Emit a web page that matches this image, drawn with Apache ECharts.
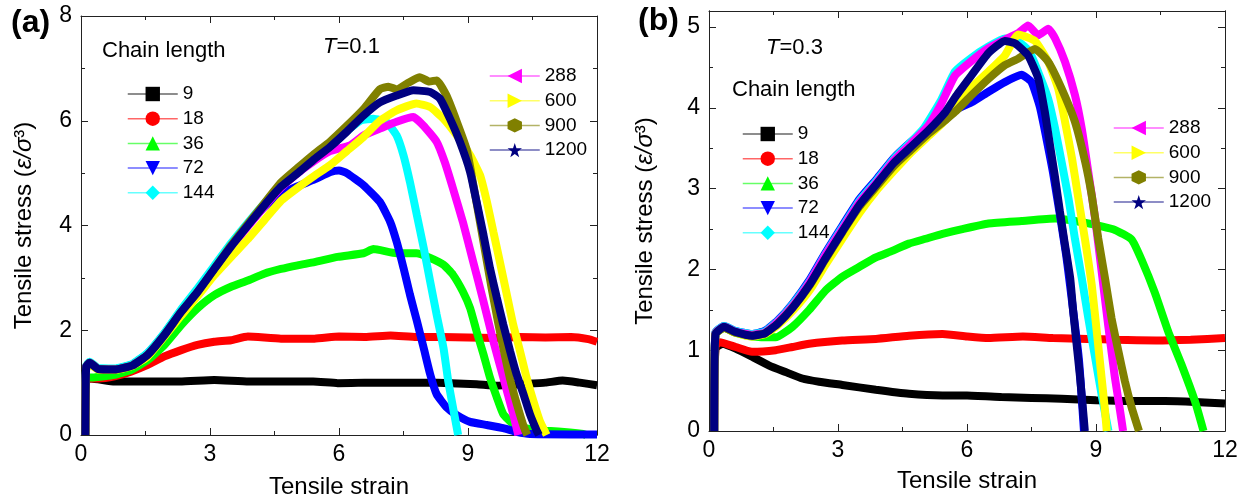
<!DOCTYPE html>
<html>
<head>
<meta charset="utf-8">
<script src="https://cdn.jsdelivr.net/npm/echarts@6/dist/echarts.min.js"></script>
<style>
html,body{margin:0;padding:0;background:#fff;}
#c{width:1247px;height:504px;}
</style>
</head>
<body>
<div id="c"></div>
<script>
// ---- Data (strain, stress) ----
const chainNames = ['9','18','36','72','144','288','600','900','1200'];
const xTicks = [0,3,6,9,12];
const yTicksA = [0,2,4,6,8];
const yTicksB = [0,1,2,3,4,5];

// Panel (a) T=0.1
const a9 = [[0.1,0],[0.12,1.05],[0.23,1.08],[0.78,1.02],[1.5,1.02],[2.3,1.02],[3.1,1.05],[3.9,1.02],[4.65,1.02],[5.4,1.02],[5.97,0.99],[6.6,1.0],[7.3,1.0],[8.0,1.0],[8.6,0.99],[9.2,0.97],[9.67,0.94],[10.2,0.97],[10.8,1.0],[11.2,1.04],[11.6,1.0],[12,0.95]];
const a18 = [[0.1,0],[0.12,1.08],[0.4,1.08],[0.78,1.12],[1.16,1.21],[1.55,1.34],[1.94,1.5],[2.33,1.62],[2.71,1.72],[3.1,1.78],[3.49,1.81],[3.88,1.88],[4.65,1.84],[5.43,1.84],[6.0,1.88],[6.6,1.87],[7.2,1.9],[7.8,1.87],[8.4,1.87],[9.0,1.86],[9.6,1.85],[10.2,1.87],[10.8,1.86],[11.4,1.87],[11.8,1.83],[12,1.78]];
const a36 = [[0.1,0],[0.12,1.1],[0.3,1.1],[0.78,1.15],[1.16,1.24],[1.55,1.43],[1.94,1.72],[2.33,2.1],[2.71,2.42],[3.1,2.67],[3.49,2.83],[3.88,2.95],[4.26,3.08],[4.65,3.17],[5.04,3.24],[5.43,3.3],[5.97,3.4],[6.57,3.47],[6.8,3.55],[7.34,3.47],[7.8,3.47],[8.12,3.38],[8.43,3.25],[8.65,3.06],[8.88,2.74],[9.05,2.42],[9.2,1.98],[9.36,1.54],[9.51,1.1],[9.67,0.72],[9.82,0.4],[10.05,0.21],[10.44,0.11],[10.83,0.08],[11.37,0.05],[11.68,0.02],[11.75,0]];
const a72 = [[0.1,0],[0.12,1.3],[0.2,1.38],[0.4,1.26],[0.78,1.26],[1.2,1.35],[1.55,1.56],[1.94,1.94],[2.33,2.38],[2.71,2.77],[3.1,3.2],[3.49,3.62],[3.88,4.0],[4.26,4.35],[4.65,4.6],[5.04,4.75],[5.43,4.88],[5.8,5.02],[6.0,5.05],[6.18,5.0],[6.57,4.77],[6.95,4.45],[7.19,4.07],[7.34,3.69],[7.5,3.19],[7.65,2.68],[7.81,2.18],[7.97,1.66],[8.12,1.16],[8.27,0.78],[8.5,0.53],[8.74,0.38],[9.05,0.25],[9.44,0.19],[9.82,0.13],[10.13,0.06],[10.44,0.02],[12,0.01]];
const a144 = [[0.1,0],[0.12,1.32],[0.2,1.4],[0.4,1.28],[0.78,1.27],[1.2,1.36],[1.55,1.57],[1.94,1.95],[2.33,2.4],[2.71,2.8],[3.1,3.23],[3.49,3.66],[3.88,4.05],[4.26,4.42],[4.65,4.78],[5.04,5.05],[5.4,5.28],[5.79,5.52],[6.18,5.8],[6.5,6.0],[6.8,6.04],[7.11,5.97],[7.34,5.72],[7.5,5.34],[7.65,4.83],[7.81,4.2],[7.97,3.57],[8.12,2.93],[8.27,2.3],[8.43,1.66],[8.54,1.03],[8.65,0.53],[8.77,0]];
const a288 = [[0.1,0],[0.12,1.3],[0.2,1.38],[0.4,1.26],[0.78,1.25],[1.2,1.33],[1.55,1.53],[1.94,1.9],[2.33,2.33],[2.71,2.72],[3.1,3.15],[3.49,3.58],[3.88,3.98],[4.26,4.36],[4.65,4.72],[5.04,5.0],[5.4,5.22],[5.79,5.42],[6.26,5.53],[6.57,5.72],[6.95,5.85],[7.34,5.98],[7.73,6.07],[7.96,5.91],[8.27,5.6],[8.46,5.21],[8.65,4.71],[8.88,4.07],[9.12,3.31],[9.36,2.55],[9.59,1.79],[9.82,1.1],[10.05,0.4],[10.17,0]];
const a600 = [[0.1,0],[0.12,1.25],[0.2,1.35],[0.4,1.25],[0.78,1.24],[1.2,1.32],[1.55,1.5],[1.94,1.88],[2.33,2.28],[2.71,2.65],[3.1,3.05],[3.49,3.4],[3.88,3.74],[4.26,4.1],[4.65,4.47],[5.04,4.72],[5.43,4.95],[5.79,5.15],[6.18,5.42],[6.57,5.69],[6.95,6.0],[7.34,6.2],[7.8,6.33],[8.12,6.26],[8.43,6.04],[8.74,5.72],[9.05,5.34],[9.28,4.96],[9.44,4.45],[9.59,3.88],[9.74,3.31],[9.9,2.69],[10.05,2.11],[10.21,1.6],[10.36,1.1],[10.52,0.65],[10.67,0.27],[10.83,0]];
const a900 = [[0.1,0],[0.12,1.3],[0.2,1.38],[0.4,1.26],[0.78,1.25],[1.2,1.33],[1.55,1.53],[1.94,1.91],[2.33,2.35],[2.71,2.73],[3.1,3.17],[3.49,3.62],[3.88,4.03],[4.26,4.42],[4.65,4.82],[5.04,5.1],[5.4,5.35],[5.79,5.6],[6.18,5.9],[6.57,6.22],[6.95,6.6],[7.15,6.65],[7.34,6.6],[7.6,6.72],[7.88,6.83],[8.1,6.75],[8.27,6.77],[8.5,6.48],[8.74,5.98],[8.97,5.45],[9.12,4.8],[9.25,4.2],[9.4,3.5],[9.55,2.8],[9.7,2.15],[9.85,1.55],[10.0,1.0],[10.15,0.55],[10.3,0.15],[10.38,0]];
const a1200 = [[0.1,0],[0.12,1.3],[0.2,1.38],[0.4,1.26],[0.78,1.25],[1.2,1.33],[1.55,1.53],[1.94,1.91],[2.33,2.35],[2.71,2.73],[3.1,3.17],[3.49,3.6],[3.88,4.0],[4.26,4.38],[4.65,4.74],[5.04,5.0],[5.4,5.25],[5.79,5.5],[6.18,5.79],[6.57,6.1],[6.95,6.35],[7.34,6.48],[7.73,6.58],[8.12,6.55],[8.35,6.42],[8.58,6.04],[8.81,5.6],[9.05,5.02],[9.2,4.45],[9.36,3.82],[9.51,3.19],[9.67,2.62],[9.82,2.11],[9.98,1.6],[10.13,1.16],[10.29,0.78],[10.44,0.4],[10.6,0.08],[10.65,0]];

// Panel (b) T=0.3
const b9 = [[0.12,0],[0.15,1.02],[0.31,1.08],[0.62,1.02],[1.0,0.92],[1.4,0.81],[1.78,0.73],[2.17,0.65],[2.56,0.61],[3.1,0.57],[3.88,0.51],[4.65,0.46],[5.43,0.44],[6.0,0.44],[6.8,0.42],[7.5,0.41],[8.2,0.4],[9.0,0.38],[9.8,0.37],[10.6,0.37],[11.3,0.36],[12,0.34]];
const b18 = [[0.12,0],[0.15,1.05],[0.25,1.1],[0.62,1.04],[1.0,0.98],[1.55,1.0],[1.94,1.04],[2.33,1.08],[3.1,1.12],[3.88,1.14],[4.65,1.18],[5.43,1.2],[6.0,1.17],[6.5,1.15],[7.3,1.17],[8.0,1.15],[8.8,1.14],[9.5,1.13],[10.4,1.12],[11.2,1.13],[12,1.15]];
const b36 = [[0.12,0],[0.15,1.2],[0.35,1.28],[0.6,1.22],[1.0,1.17],[1.55,1.16],[1.94,1.29],[2.33,1.5],[2.71,1.74],[3.1,1.91],[3.49,2.03],[3.88,2.15],[4.26,2.23],[4.65,2.32],[5.04,2.38],[5.43,2.44],[5.89,2.5],[6.5,2.57],[7.27,2.6],[8.05,2.63],[8.82,2.57],[9.44,2.49],[9.83,2.37],[10.06,2.12],[10.37,1.71],[10.68,1.23],[10.99,0.82],[11.3,0.37],[11.5,0]];
const b72 = [[0.12,0],[0.15,1.22],[0.35,1.3],[0.6,1.24],[1.0,1.2],[1.3,1.24],[1.6,1.37],[1.95,1.58],[2.35,1.88],[2.7,2.2],[3.1,2.54],[3.5,2.87],[3.9,3.12],[4.3,3.38],[4.7,3.58],[5.1,3.76],[5.5,3.92],[6.11,4.07],[6.5,4.2],[6.88,4.32],[7.27,4.41],[7.5,4.32],[7.7,4.0],[8.0,3.2],[8.3,2.2],[8.6,0.9],[8.72,0]];
const b144 = [[0.12,0],[0.15,1.22],[0.35,1.3],[0.6,1.24],[1.0,1.2],[1.3,1.23],[1.6,1.36],[1.95,1.57],[2.35,1.86],[2.7,2.18],[3.1,2.52],[3.5,2.85],[3.9,3.1],[4.3,3.37],[4.7,3.58],[5.0,3.75],[5.4,4.1],[5.72,4.45],[6.1,4.62],[6.5,4.76],[6.88,4.86],[7.2,4.82],[7.45,4.7],[7.66,4.44],[7.89,4.11],[8.05,3.74],[8.2,3.33],[8.36,2.88],[8.51,2.38],[8.67,1.89],[8.82,1.4],[8.98,0.91],[9.13,0.45],[9.29,0]];
const b288 = [[0.12,0],[0.15,1.21],[0.35,1.29],[0.6,1.23],[1.0,1.19],[1.3,1.22],[1.6,1.35],[1.95,1.55],[2.35,1.85],[2.7,2.17],[3.1,2.5],[3.5,2.83],[3.9,3.08],[4.3,3.35],[4.7,3.56],[5.1,3.78],[5.4,4.05],[5.72,4.4],[6.1,4.58],[6.5,4.74],[6.9,4.85],[7.2,4.93],[7.42,5.02],[7.66,4.9],[7.89,4.98],[8.05,4.86],[8.28,4.57],[8.51,4.16],[8.67,3.74],[8.82,3.21],[8.98,2.63],[9.13,1.98],[9.29,1.28],[9.44,0.66],[9.56,0.25],[9.63,0]];
const b600 = [[0.12,0],[0.15,1.2],[0.35,1.28],[0.6,1.22],[1.0,1.17],[1.3,1.2],[1.6,1.31],[1.95,1.49],[2.35,1.75],[2.7,2.05],[3.1,2.38],[3.5,2.7],[3.9,2.98],[4.3,3.22],[4.7,3.45],[5.1,3.65],[5.5,3.85],[6.1,4.25],[6.5,4.45],[6.88,4.65],[7.19,4.91],[7.58,4.83],[7.89,4.57],[8.12,4.24],[8.28,3.83],[8.44,3.38],[8.59,2.88],[8.75,2.35],[8.9,1.81],[9.05,1.07],[9.13,0.66],[9.21,0.25],[9.25,0]];
const b900 = [[0.12,0],[0.15,1.2],[0.35,1.28],[0.6,1.22],[1.0,1.18],[1.3,1.21],[1.6,1.33],[1.95,1.53],[2.35,1.81],[2.7,2.12],[3.1,2.46],[3.5,2.78],[3.9,3.03],[4.3,3.28],[4.7,3.48],[5.1,3.68],[5.5,3.85],[5.72,3.95],[6.11,4.16],[6.5,4.36],[6.88,4.53],[7.19,4.61],[7.58,4.73],[7.89,4.57],[8.2,4.24],[8.51,3.83],[8.75,3.33],[8.9,2.92],[9.05,2.39],[9.21,1.89],[9.36,1.4],[9.52,0.99],[9.67,0.62],[9.83,0.29],[10.0,0]];
const b1200 = [[0.12,0],[0.15,1.2],[0.35,1.29],[0.6,1.23],[1.0,1.18],[1.3,1.21],[1.6,1.33],[1.95,1.53],[2.35,1.82],[2.7,2.13],[3.1,2.47],[3.5,2.8],[3.9,3.06],[4.3,3.32],[4.7,3.52],[5.1,3.72],[5.5,3.95],[5.75,4.15],[6.1,4.4],[6.5,4.68],[6.88,4.83],[7.12,4.8],[7.42,4.65],[7.66,4.36],[7.81,3.95],[7.93,3.54],[8.05,3.13],[8.16,2.72],[8.28,2.3],[8.4,1.89],[8.47,1.48],[8.55,1.07],[8.63,0.66],[8.7,0.25],[8.74,0]];

const panelA = [a9,a18,a36,a72,a144,a288,a600,a900,a1200];
const panelB = [b9,b18,b36,b72,b144,b288,b600,b900,b1200];

// ---- Styles ----
const colors = ['#000000','#ff0000','#00ff00','#0000ff','#00ffff','#ff00ff','#ffff00','#808000','#000080'];
const symbols = [
  'rect','circle','triangle',
  'path://M0,0L10,0L5,9Z',
  'diamond',
  'path://M9,0L9,10L0,5Z',
  'path://M0,0L0,10L9,5Z',
  'path://M5,0L9.33,2.5L9.33,7.5L5,10L0.67,7.5L0.67,2.5Z',
  'path://M5,0L6.2,3.6L10,3.6L6.9,5.9L8.1,9.5L5,7.3L1.9,9.5L3.1,5.9L0,3.6L3.8,3.6Z'
];
const FONT = '"Liberation Sans", Arial, sans-serif';
const frameColor = '#222';

function xAx(gi, pos, labels, name) {
  return {
    type:'value', gridIndex:gi, position:pos, min:0, max:12, interval:3,
    axisLine:{show:true, onZero:false, lineStyle:{color:frameColor,width:1}},
    axisTick:{show:true, inside:true, length:7, lineStyle:{color:frameColor}},
    minorTick:{show:true, splitNumber:2, length:4, lineStyle:{color:frameColor}},
    splitLine:{show:false}, minorSplitLine:{show:false},
    axisLabel:{show:labels, fontSize:23, color:'#000', fontFamily:FONT, margin:8},
    name: name || '', nameLocation:'middle', nameGap:40,
    nameTextStyle:{fontSize:24, color:'#000', fontFamily:FONT}
  };
}
function yAx(gi, pos, labels, max, interval, minor, name, gap, tickLen) {
  return {
    type:'value', gridIndex:gi, position:pos, min:0, max:max, interval:interval,
    axisLine:{show:true, onZero:false, lineStyle:{color:frameColor,width:1}},
    axisTick:{show:true, inside:true, length:tickLen, lineStyle:{color:frameColor}},
    minorTick:{show:minor, splitNumber:2, length:4, lineStyle:{color:frameColor}},
    splitLine:{show:false}, minorSplitLine:{show:false},
    axisLabel:{show:labels, fontSize:23, color:'#000', fontFamily:FONT, margin:9, showMaxLabel: max===8},
    name: name || '', nameLocation:'middle', nameGap:gap || 45, nameRotate:90,
    nameTextStyle:{fontSize:24, color:'#000', fontFamily:FONT,
      rich:{i:{fontSize:24, fontStyle:'italic', fontFamily:FONT, color:'#000'}}}
  };
}

const yName = 'Tensile stress ({i|ε/σ}³)';

const xAxes = [
  xAx(0,'bottom',true,'Tensile strain'), xAx(0,'top',false),
  xAx(1,'bottom',true,'Tensile strain'), xAx(1,'top',false)
];
xAxes[2].nameGap = 38;
const yAxes = [
  yAx(0,'left',true,8,2,true,yName,45,7), yAx(0,'right',false,8,2,true,'',0,7),
  yAx(1,'left',true,5.2,1,false,yName,52,7), yAx(1,'right',false,5.2,1,false,'',0,7),
  yAx(1,'left',false,5.2,0.5,false,'',0,4), yAx(1,'right',false,5.2,0.5,false,'',0,4)
];

const series = [];
chainNames.forEach((n,i)=>{
  series.push({
    type:'line', name:n, xAxisIndex:0, yAxisIndex:0, data:panelA[i],
    showSymbol:false, symbol:symbols[i], symbolSize:13, smooth:0.15,
    lineStyle:{color:colors[i], width:8}, itemStyle:{color:colors[i]},
    silent:true, z:2+i
  });
});
chainNames.forEach((n,i)=>{
  series.push({
    type:'line', name:n, xAxisIndex:2, yAxisIndex:2, data:panelB[i],
    showSymbol:false, symbol:symbols[i], symbolSize:13, smooth:0.15,
    lineStyle:{color:colors[i], width:8}, itemStyle:{color:colors[i]},
    silent:true, z:2+i
  });
});

function leg(left, top, names) {
  return {
    left:left, top:top, orient:'vertical', data:names,
    itemWidth:50, itemHeight:18, itemGap:4.7, selectedMode:false,
    textStyle:{fontSize:19, color:'#000', fontFamily:FONT, lineHeight:20},
    lineStyle:{width:1.5, opacity:0.6}
  };
}

const option = {
  animation:false,
  backgroundColor:'#fff',
  grid:[
    {left:81, top:16, width:516, height:421},
    {left:709, top:11, width:516, height:420}
  ],
  xAxis:xAxes,
  yAxis:yAxes,
  legend:[
    leg(122, 79, chainNames.slice(0,5)),
    leg(484, 61, chainNames.slice(5)),
    leg(737, 119, chainNames.slice(0,5)),
    leg(1108, 113, chainNames.slice(5))
  ],
  graphic:[
    {type:'text', left:11, top:7, style:{text:'(a)', fontSize:32, fontWeight:'bold', fill:'#000', fontFamily:FONT}},
    {type:'text', left:638, top:5, style:{text:'(b)', fontSize:32, fontWeight:'bold', fill:'#000', fontFamily:FONT}},
    {type:'text', left:102, top:40, style:{text:'Chain length', fontSize:22, fill:'#000', fontFamily:FONT}},
    {type:'text', left:732, top:79, style:{text:'Chain length', fontSize:22, fill:'#000', fontFamily:FONT}},
    {type:'text', left:323, top:36, style:{text:'{i|T}=0.1', fontSize:22, fill:'#000', fontFamily:FONT,
      rich:{i:{fontStyle:'italic', fontSize:22, fontFamily:FONT, fill:'#000'}}}},
    {type:'text', left:766, top:37, style:{text:'{i|T}=0.3', fontSize:22, fill:'#000', fontFamily:FONT,
      rich:{i:{fontStyle:'italic', fontSize:22, fontFamily:FONT, fill:'#000'}}}}
  ],
  series:series
};

const chart = echarts.init(document.getElementById('c'), null, {renderer:'canvas'});
chart.setOption(option);
</script>
</body>
</html>
